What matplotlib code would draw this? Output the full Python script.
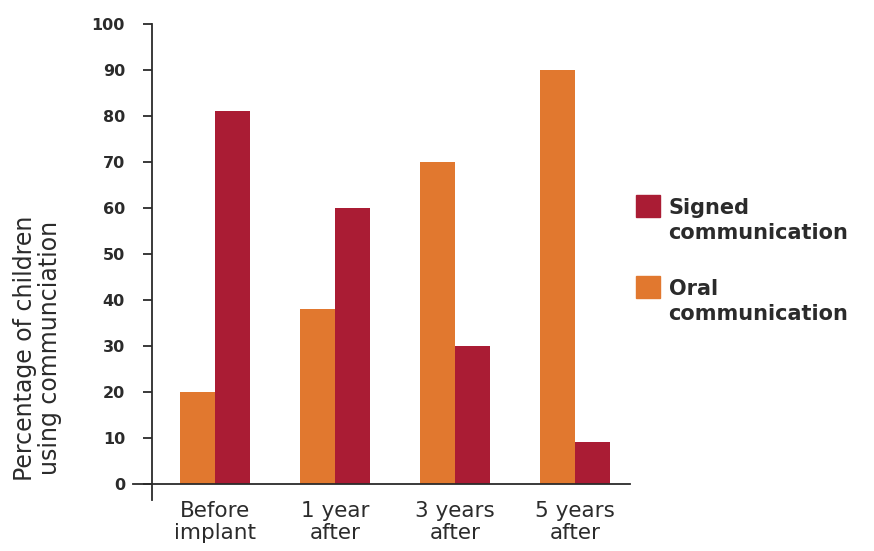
import numpy as np
import matplotlib
matplotlib.use("Agg")
import matplotlib.pyplot as plt
from matplotlib.patches import Rectangle

categories = ["Before\nimplant", "1 year\nafter", "3 years\nafter", "5 years\nafter"]
oral = [20, 38, 70, 90]
signed = [81, 60, 30, 9]
yticks = [0, 10, 20, 30, 40, 50, 60, 70, 80, 90, 100]

ORANGE = "#E1782F"
RED = "#AA1C34"
TEXT = "#2b2b2b"


def main():
    fig = plt.figure(figsize=(8.74, 5.51), dpi=100)
    ax = fig.add_axes([0.174, 0.0926, 0.547, 0.864])

    x = np.arange(len(categories))
    w = 0.29
    ax.bar(x - w / 2, oral, w, color=ORANGE)
    ax.bar(x + w / 2, signed, w, color=RED)

    ax.set_xlim(-0.525, 3.46)
    ax.set_ylim(-3.5, 100)

    for s in ["top", "right", "bottom"]:
        ax.spines[s].set_visible(False)
    ax.spines["left"].set_color(TEXT)
    ax.spines["left"].set_linewidth(1.3)
    ax.axhline(0, xmin=-0.04, xmax=1, color=TEXT, lw=1.3, clip_on=False)

    ax.set_yticks(yticks)
    ax.set_yticklabels([str(v) for v in yticks], fontsize=11.5,
                       fontweight="bold", color=TEXT)
    ax.tick_params(axis="y", length=6.5, width=1.3, color=TEXT, pad=13)

    ax.set_xticks(x)
    ax.set_xticklabels(categories, fontsize=15.5, color=TEXT, linespacing=1.12)
    ax.tick_params(axis="x", length=0, pad=1)

    fig.text(0.043, 0.368, "Percentage of children\nusing communciation",
             rotation=90, ha="center", va="center", fontsize=17,
             color=TEXT, linespacing=1.08)

    # legend drawn by hand so the swatch sits beside the first line
    for y0, col, lab in [(0.606, RED, "Signed\ncommunication"),
                         (0.460, ORANGE, "Oral\ncommunication")]:
        fig.patches.append(Rectangle((0.728, y0), 0.027, 0.040,
                                     transform=fig.transFigure,
                                     color=col))
        fig.text(0.765, y0 + 0.034, lab, ha="left", va="top",
                 fontsize=15, fontweight="bold", color=TEXT,
                 linespacing=1.3)

    fig.savefig("out.png", dpi=100)


if __name__ == "__main__":
    main()
